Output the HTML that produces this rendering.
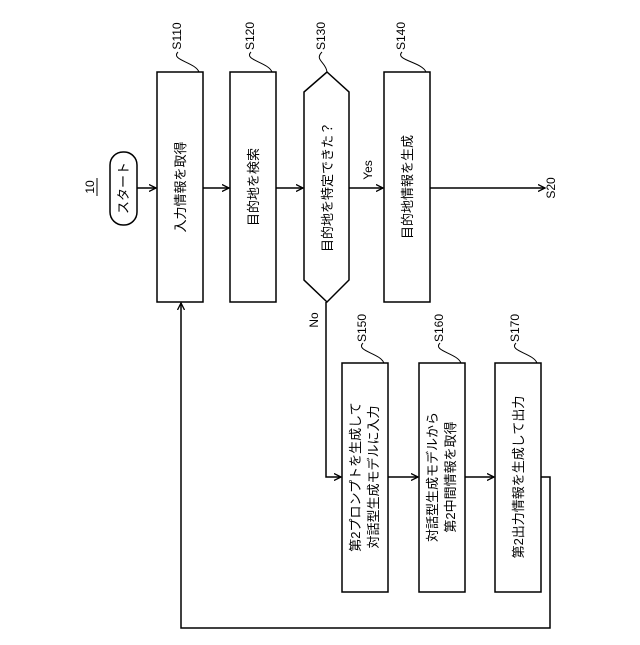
<!DOCTYPE html>
<html><head><meta charset="utf-8"><style>
html,body{margin:0;padding:0;background:#fff;}
svg text{font-family:"Liberation Sans","Noto Sans CJK JP",sans-serif;fill:#000;}
</style></head><body>
<svg width="640" height="640" viewBox="0 0 640 640" xmlns="http://www.w3.org/2000/svg">
<defs><marker id="a" markerWidth="8" markerHeight="8" refX="7" refY="4" orient="auto" markerUnits="userSpaceOnUse"><path d="M0,0.5 L7,4 L0,7.5" fill="none" stroke="#000" stroke-width="1.3"/></marker></defs>
<g fill="none" stroke="#000" stroke-width="1.5">
<rect x="110" y="152" width="27" height="73" rx="13"/>
<rect x="157" y="72" width="46" height="230"/>
<rect x="230" y="72" width="46" height="230"/>
<path d="M327,72 L349,92 L349,280 L327,302 L304,280 L304,92 Z"/>
<rect x="384" y="72" width="46" height="230"/>
<rect x="342" y="363" width="46" height="229"/>
<rect x="419" y="363" width="46" height="229"/>
<rect x="495" y="363" width="46" height="229"/>
<line x1="137" y1="188" x2="156" y2="188" marker-end="url(#a)"/>
<line x1="203" y1="188" x2="229" y2="188" marker-end="url(#a)"/>
<line x1="276" y1="188" x2="303" y2="188" marker-end="url(#a)"/>
<line x1="349" y1="188" x2="383" y2="188" marker-end="url(#a)"/>
<line x1="430" y1="188" x2="545" y2="188" marker-end="url(#a)"/>
<polyline points="326,302 326,477 341,477" marker-end="url(#a)"/>
<line x1="388" y1="477" x2="418" y2="477" marker-end="url(#a)"/>
<line x1="465" y1="477" x2="494" y2="477" marker-end="url(#a)"/>
<polyline points="541,477 550,477 550,628 181,628 181,303" marker-end="url(#a)"/>
<g stroke-width="1">
<path d="M178,52 C170,60 195,62 199,72"/>
<path d="M251,52 C243,60 268,62 272,72"/>
<path d="M322,52 C314,60 326,62 327,72"/>
<path d="M402,52 C394,60 422,62 426,72"/>
<path d="M363,343 C355,351 380,353 384,363"/>
<path d="M440,343 C432,351 457,353 461,363"/>
<path d="M516,343 C508,351 533,353 537,363"/>
<line x1="97" y1="178" x2="97" y2="196"/>
</g>
</g>
<g font-size="13" text-anchor="middle">
<text transform="translate(128,188) rotate(-90)">スタート</text>
<text transform="translate(185,187) rotate(-90)">入力情報を取得</text>
<text transform="translate(258,187) rotate(-90)">目的地を検索</text>
<text transform="translate(332,187) rotate(-90)">目的地を特定できた？</text>
<text transform="translate(412,187) rotate(-90)">目的地情報を生成</text>
<text transform="translate(360,477) rotate(-90)">第2プロンプトを生成して</text>
<text transform="translate(378,477) rotate(-90)">対話型生成モデルに入力</text>
<text transform="translate(437,477) rotate(-90)">対話型生成モデルから</text>
<text transform="translate(455,477) rotate(-90)">第2中間情報を取得</text>
<text transform="translate(523,477) rotate(-90)">第2出力情報を生成して出力</text>
</g>
<g font-size="12" text-anchor="middle">
<text transform="translate(94,187) rotate(-90)">10</text>
<text transform="translate(181,36) rotate(-90)">S110</text>
<text transform="translate(254,36) rotate(-90)">S120</text>
<text transform="translate(325,36) rotate(-90)">S130</text>
<text transform="translate(405,36) rotate(-90)">S140</text>
<text transform="translate(372,170) rotate(-90)">Yes</text>
<text transform="translate(555,188) rotate(-90)">S20</text>
<text transform="translate(318,320) rotate(-90)">No</text>
<text transform="translate(366,328) rotate(-90)">S150</text>
<text transform="translate(443,328) rotate(-90)">S160</text>
<text transform="translate(519,328) rotate(-90)">S170</text>
</g>
</svg>
</body></html>
